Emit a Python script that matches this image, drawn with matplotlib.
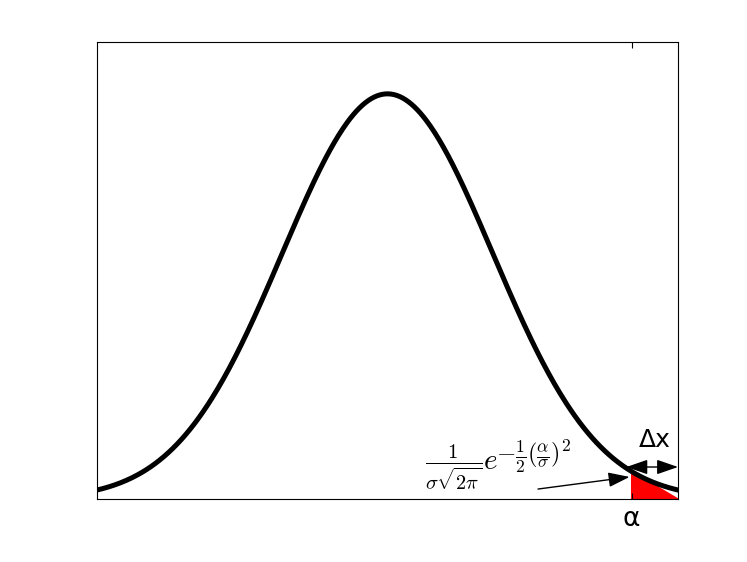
import numpy as np
import matplotlib.pyplot as plt

plt.rcParams['mathtext.fontset'] = 'cm'

# distribution
mu = 0.0
sigma = 1.0
x_min, x_max = -2.76, 2.76
alpha = 2.32
y_max = 0.45

x = np.linspace(x_min, x_max, 400)
pdf = np.exp(-0.5 * ((x - mu) / sigma) ** 2) / (sigma * np.sqrt(2 * np.pi))
f_alpha = np.exp(-0.5 * ((alpha - mu) / sigma) ** 2) / (sigma * np.sqrt(2 * np.pi))

# red wedge between alpha and the right edge
wedge_x = [alpha, alpha, x_max]
wedge_y = [0.0, f_alpha, 0.0]

fig = plt.figure(figsize=(7.47, 5.62), dpi=100)
ax = fig.add_axes([0.1299, 0.1121, 0.7777, 0.8132])

ax.fill(wedge_x, wedge_y, color='red', zorder=1)
ax.plot(x, pdf, color='black', lw=3.6, zorder=2)

ax.set_xlim(x_min, x_max)
ax.set_ylim(0, y_max)
ax.set_yticks([])
ax.set_xticks([alpha])
ax.set_xticklabels([r'α'], fontsize=19)
ax.tick_params(axis='x', direction='in', top=True, length=4, pad=5)

head = 'head_length=1.3, head_width=0.45'

# delta x double arrow
ax.annotate('', xy=(alpha - 0.05, 0.0315), xytext=(x_max, 0.0315),
            arrowprops=dict(arrowstyle='<|-|>, ' + head, lw=1.0, mutation_scale=10,
                            color='black', shrinkA=0, shrinkB=0))
ax.text((alpha + x_max) / 2, 0.058, 'Δx', fontsize=18, ha='center', va='center')

# formula (exponent set a bit larger, as in the original) + arrow to curve
ax.text(0.36, 0.031, r'$\frac{1}{\sigma\sqrt{2\pi}}e$',
        fontsize=21, ha='left', va='center')
ax.text(1.03, 0.041, r'$-\frac{1}{2}\left(\frac{\alpha}{\sigma}\right)^2$',
        fontsize=18, ha='left', va='center')
ax.annotate('', xy=(2.30, 0.0217), xytext=(1.43, 0.0098),
            arrowprops=dict(arrowstyle='-|>, ' + head, lw=1.0, mutation_scale=10,
                            color='black', shrinkA=0, shrinkB=0))

fig.savefig('out.png', dpi=100)
